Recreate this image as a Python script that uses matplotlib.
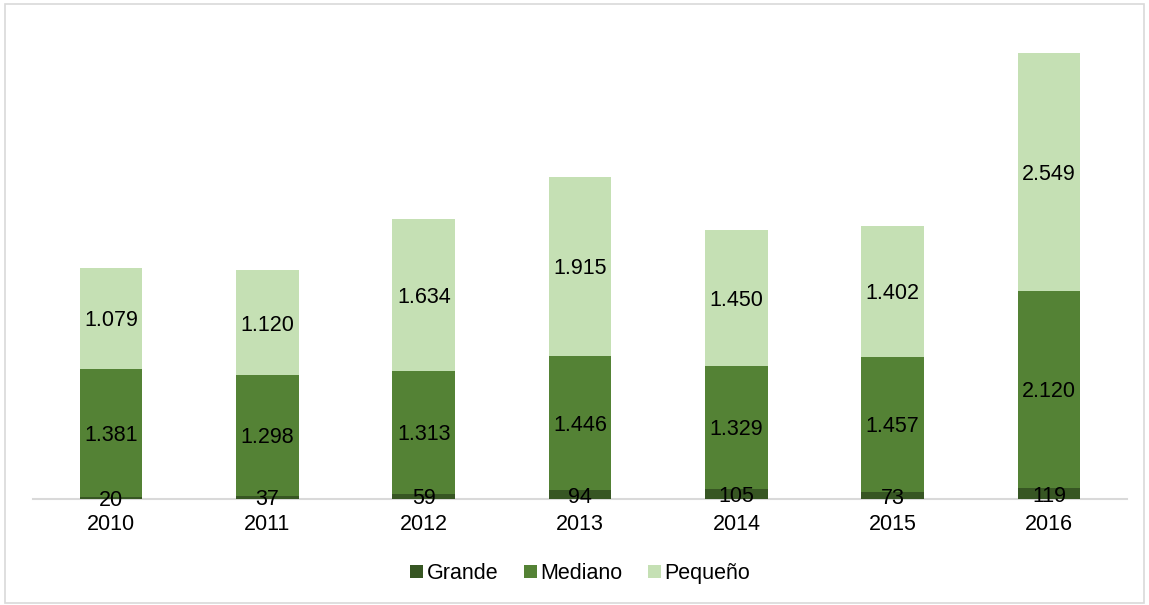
import matplotlib.pyplot as plt
import numpy as np
from matplotlib.patches import Rectangle

plt.rcParams['font.family'] = ['Liberation Sans', 'DejaVu Sans']

years = ['2010', '2011', '2012', '2013', '2014', '2015', '2016']
grande = [20, 37, 59, 94, 105, 73, 119]
mediano = [1381, 1298, 1313, 1446, 1329, 1457, 2120]
pequeno = [1079, 1120, 1634, 1915, 1450, 1402, 2549]

colors = ['#375623', '#548235', '#C5E0B4']
names = ['Grande', 'Mediano', 'Pequeño']

def fmt(v):
    return f"{v:,}".replace(",", ".")

fig = plt.figure(figsize=(11.49, 6.05), dpi=100)
ax = fig.add_axes([0.0287, 0.175, 0.9523, 0.77])

x = np.arange(len(years))
bottom = np.zeros(len(years))
for vals, c, n in zip([grande, mediano, pequeno], colors, names):
    ax.bar(x, vals, 0.4, bottom=bottom, color=c, label=n, zorder=2)
    for xi, b, v in zip(x, bottom, vals):
        ax.text(xi, b + v / 2, fmt(v), ha='center', va='center_baseline',
                fontsize=15.5, color='black', zorder=3)
    bottom += np.array(vals)

ax.set_xlim(-0.5, len(years) - 0.5)
ax.set_ylim(0, 5000)
ax.set_yticks([])
ax.set_xticks(x)
ax.set_xticklabels(years, fontsize=15.5)
ax.tick_params(axis='x', length=0, pad=11)
for s in ['top', 'right', 'left']:
    ax.spines[s].set_visible(False)
ax.spines['bottom'].set_color('#D9D9D9')
ax.spines['bottom'].set_linewidth(1.5)
ax.spines['bottom'].set_zorder(1)

fig.legend(loc='center', bbox_to_anchor=(0.505, 0.052), ncol=3, frameon=False,
           fontsize=15.5, handlelength=0.6, handleheight=0.6, handletextpad=0.15,
           columnspacing=1.2)

fig.patches.append(Rectangle((0.004, 0.003), 0.992, 0.99, transform=fig.transFigure,
                             fill=False, edgecolor='#D9D9D9', linewidth=1.2))

fig.savefig('out.png', dpi=100)
